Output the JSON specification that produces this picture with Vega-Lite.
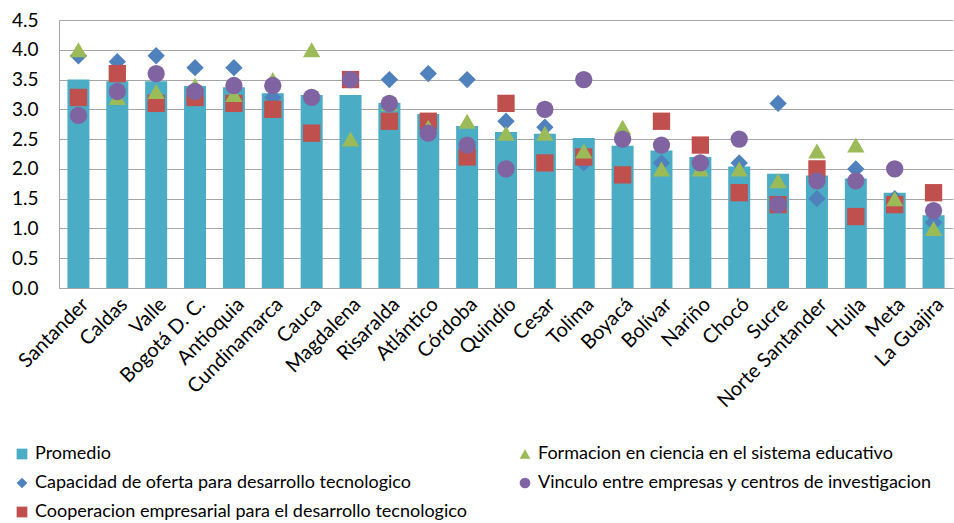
{
  "$schema": "https://vega.github.io/schema/vega-lite/v6.json",
  "width": 894,
  "height": 268,
  "autosize": {"type": "none"},
  "padding": {"left": 59, "top": 20, "right": 1, "bottom": 235},
  "background": "white",
  "config": {"font": "Lato", "view": {"stroke": null}},
  "data": {
    "values": [
      {"dep": "Santander", "Promedio": 3.50, "Capacidad de oferta para desarrollo tecnologico": 3.9, "Cooperacion empresarial para el desarrollo tecnologico": 3.2, "Formacion en ciencia en el sistema educativo": 4.0, "Vinculo entre empresas y centros de investigacion": 2.9},
      {"dep": "Caldas", "Promedio": 3.47, "Capacidad de oferta para desarrollo tecnologico": 3.8, "Cooperacion empresarial para el desarrollo tecnologico": 3.6, "Formacion en ciencia en el sistema educativo": 3.2, "Vinculo entre empresas y centros de investigacion": 3.3},
      {"dep": "Valle", "Promedio": 3.47, "Capacidad de oferta para desarrollo tecnologico": 3.9, "Cooperacion empresarial para el desarrollo tecnologico": 3.1, "Formacion en ciencia en el sistema educativo": 3.3, "Vinculo entre empresas y centros de investigacion": 3.6},
      {"dep": "Bogotá D. C.", "Promedio": 3.39, "Capacidad de oferta para desarrollo tecnologico": 3.7, "Cooperacion empresarial para el desarrollo tecnologico": 3.2, "Formacion en ciencia en el sistema educativo": 3.4, "Vinculo entre empresas y centros de investigacion": 3.3},
      {"dep": "Antioquia", "Promedio": 3.37, "Capacidad de oferta para desarrollo tecnologico": 3.7, "Cooperacion empresarial para el desarrollo tecnologico": 3.1, "Formacion en ciencia en el sistema educativo": 3.25, "Vinculo entre empresas y centros de investigacion": 3.4},
      {"dep": "Cundinamarca", "Promedio": 3.27, "Capacidad de oferta para desarrollo tecnologico": 3.2, "Cooperacion empresarial para el desarrollo tecnologico": 3.0, "Formacion en ciencia en el sistema educativo": 3.5, "Vinculo entre empresas y centros de investigacion": 3.4},
      {"dep": "Cauca", "Promedio": 3.24, "Capacidad de oferta para desarrollo tecnologico": 3.2, "Cooperacion empresarial para el desarrollo tecnologico": 2.6, "Formacion en ciencia en el sistema educativo": 4.0, "Vinculo entre empresas y centros de investigacion": 3.2},
      {"dep": "Magdalena", "Promedio": 3.24, "Capacidad de oferta para desarrollo tecnologico": 3.5, "Cooperacion empresarial para el desarrollo tecnologico": 3.5, "Formacion en ciencia en el sistema educativo": 2.5, "Vinculo entre empresas y centros de investigacion": 3.5},
      {"dep": "Risaralda", "Promedio": 3.11, "Capacidad de oferta para desarrollo tecnologico": 3.5, "Cooperacion empresarial para el desarrollo tecnologico": 2.8, "Formacion en ciencia en el sistema educativo": 3.1, "Vinculo entre empresas y centros de investigacion": 3.1},
      {"dep": "Atlántico", "Promedio": 2.92, "Capacidad de oferta para desarrollo tecnologico": 3.6, "Cooperacion empresarial para el desarrollo tecnologico": 2.8, "Formacion en ciencia en el sistema educativo": 2.7, "Vinculo entre empresas y centros de investigacion": 2.6},
      {"dep": "Córdoba", "Promedio": 2.72, "Capacidad de oferta para desarrollo tecnologico": 3.5, "Cooperacion empresarial para el desarrollo tecnologico": 2.2, "Formacion en ciencia en el sistema educativo": 2.8, "Vinculo entre empresas y centros de investigacion": 2.4},
      {"dep": "Quindío", "Promedio": 2.62, "Capacidad de oferta para desarrollo tecnologico": 2.8, "Cooperacion empresarial para el desarrollo tecnologico": 3.1, "Formacion en ciencia en el sistema educativo": 2.6, "Vinculo entre empresas y centros de investigacion": 2.0},
      {"dep": "Cesar", "Promedio": 2.59, "Capacidad de oferta para desarrollo tecnologico": 2.7, "Cooperacion empresarial para el desarrollo tecnologico": 2.1, "Formacion en ciencia en el sistema educativo": 2.6, "Vinculo entre empresas y centros de investigacion": 3.0},
      {"dep": "Tolima", "Promedio": 2.52, "Capacidad de oferta para desarrollo tecnologico": 2.1, "Cooperacion empresarial para el desarrollo tecnologico": 2.2, "Formacion en ciencia en el sistema educativo": 2.3, "Vinculo entre empresas y centros de investigacion": 3.5},
      {"dep": "Boyacá", "Promedio": 2.39, "Capacidad de oferta para desarrollo tecnologico": 2.5, "Cooperacion empresarial para el desarrollo tecnologico": 1.9, "Formacion en ciencia en el sistema educativo": 2.7, "Vinculo entre empresas y centros de investigacion": 2.5},
      {"dep": "Bolívar", "Promedio": 2.31, "Capacidad de oferta para desarrollo tecnologico": 2.1, "Cooperacion empresarial para el desarrollo tecnologico": 2.8, "Formacion en ciencia en el sistema educativo": 2.0, "Vinculo entre empresas y centros de investigacion": 2.4},
      {"dep": "Nariño", "Promedio": 2.20, "Capacidad de oferta para desarrollo tecnologico": 2.1, "Cooperacion empresarial para el desarrollo tecnologico": 2.4, "Formacion en ciencia en el sistema educativo": 2.0, "Vinculo entre empresas y centros de investigacion": 2.1},
      {"dep": "Chocó", "Promedio": 2.04, "Capacidad de oferta para desarrollo tecnologico": 2.1, "Cooperacion empresarial para el desarrollo tecnologico": 1.6, "Formacion en ciencia en el sistema educativo": 2.0, "Vinculo entre empresas y centros de investigacion": 2.5},
      {"dep": "Sucre", "Promedio": 1.92, "Capacidad de oferta para desarrollo tecnologico": 3.1, "Cooperacion empresarial para el desarrollo tecnologico": 1.4, "Formacion en ciencia en el sistema educativo": 1.8, "Vinculo entre empresas y centros de investigacion": 1.4},
      {"dep": "Norte Santander", "Promedio": 1.89, "Capacidad de oferta para desarrollo tecnologico": 1.5, "Cooperacion empresarial para el desarrollo tecnologico": 2.0, "Formacion en ciencia en el sistema educativo": 2.3, "Vinculo entre empresas y centros de investigacion": 1.8},
      {"dep": "Huila", "Promedio": 1.84, "Capacidad de oferta para desarrollo tecnologico": 2.0, "Cooperacion empresarial para el desarrollo tecnologico": 1.2, "Formacion en ciencia en el sistema educativo": 2.4, "Vinculo entre empresas y centros de investigacion": 1.8},
      {"dep": "Meta", "Promedio": 1.60, "Capacidad de oferta para desarrollo tecnologico": 1.5, "Cooperacion empresarial para el desarrollo tecnologico": 1.4, "Formacion en ciencia en el sistema educativo": 1.5, "Vinculo entre empresas y centros de investigacion": 2.0},
      {"dep": "La Guajira", "Promedio": 1.22, "Capacidad de oferta para desarrollo tecnologico": 1.1, "Cooperacion empresarial para el desarrollo tecnologico": 1.6, "Formacion en ciencia en el sistema educativo": 1.0, "Vinculo entre empresas y centros de investigacion": 1.3}
    ]
  },
  "transform": [
    {"fold": ["Promedio", "Capacidad de oferta para desarrollo tecnologico", "Cooperacion empresarial para el desarrollo tecnologico", "Formacion en ciencia en el sistema educativo", "Vinculo entre empresas y centros de investigacion"], "as": ["serie", "valor"]}
  ],
  "encoding": {
    "x": {
      "field": "dep", "type": "nominal", "sort": null, "title": null,
      "scale": {"paddingInner": 0.434, "paddingOuter": 0.217},
      "axis": {"labelAngle": -45, "labelFontSize": 20, "labelColor": "#000000", "ticks": false, "labelPadding": 6, "domainColor": "#A6A6A6", "domainWidth": 1, "labelFont": "Lato"}
    },
    "y": {
      "field": "valor", "type": "quantitative", "title": null,
      "scale": {"domain": [0, 4.5], "nice": false},
      "axis": {"values": [0, 0.5, 1, 1.5, 2, 2.5, 3, 3.5, 4, 4.5], "format": ".1f", "labelFontSize": 19, "labelColor": "#000000", "ticks": false, "labelPadding": 21, "gridColor": "#A6A6A6", "gridWidth": 1, "domainColor": "#A6A6A6", "labelFont": "Lato"}
    },
    "color": {
      "field": "serie", "type": "nominal", "title": null,
      "scale": {
        "domain": ["Promedio", "Capacidad de oferta para desarrollo tecnologico", "Cooperacion empresarial para el desarrollo tecnologico", "Formacion en ciencia en el sistema educativo", "Vinculo entre empresas y centros de investigacion"],
        "range": ["#4BACC6", "#4F81BD", "#C0504D", "#9BBB59", "#8064A2"]
      },
      "legend": {
        "orient": "none", "legendX": -46, "legendY": 425, "columns": 2, "columnPadding": 49, "rowPadding": 11,
        "symbolSize": 115, "labelFontSize": 18, "labelFont": "Lato", "labelColor": "#000000", "labelOffset": 4, "labelLimit": 600, "symbolOpacity": 1, "padding": 0
      }
    }
  },
  "layer": [
    {
      "transform": [{"filter": "datum.serie === 'Promedio'"}],
      "mark": {"type": "bar"}
    },
    {
      "transform": [{"filter": "datum.serie !== 'Promedio'"}],
      "mark": {"type": "point", "filled": true, "opacity": 1, "size": 300},
      "encoding": {
        "shape": {
          "field": "serie", "type": "nominal", "title": null,
          "scale": {
            "domain": ["Promedio", "Capacidad de oferta para desarrollo tecnologico", "Cooperacion empresarial para el desarrollo tecnologico", "Formacion en ciencia en el sistema educativo", "Vinculo entre empresas y centros de investigacion"],
            "range": ["square", "diamond", "square", "triangle-up", "circle"]
          }
        }
      }
    }
  ]
}
